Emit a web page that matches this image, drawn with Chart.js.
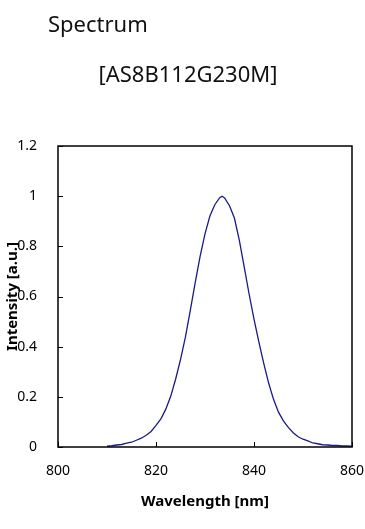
<!DOCTYPE html>
<html>
<head>
<meta charset="utf-8">
<script src="https://cdn.jsdelivr.net/npm/chart.js@4/dist/chart.umd.min.js"></script>
<style>
    html, body { margin: 0; padding: 0; background: #fff; }
    #wrap { position: relative; width: 365px; height: 529px; }
    #chart { position: absolute; left: 0; top: 0; }
    .head { position: absolute; font-family: "Noto Sans", sans-serif; font-size: 22px; color: #111; white-space: nowrap; }
    #t1 { left: 48px; top: 8px; }
    #t2 { left: 0; width: 376px; text-align: center; top: 58px; }
</style>
</head>
<body>
<div id="wrap">
    <canvas id="chart" width="365" height="529"></canvas>
    <div class="head" id="t1">Spectrum</div>
    <div class="head" id="t2">[AS8B112G230M]</div>
</div>
<script>
// 波长 (nm)
const wavelengths = [
    810, 811, 812, 813, 814, 815, 816, 817, 818, 819,
    820, 821, 822, 823, 824, 825, 826, 827, 828, 829,
    830, 831, 832, 833, 833.5, 834, 835, 836, 837, 838, 839,
    840, 841, 842, 843, 844, 845, 846, 847, 848, 849,
    850, 851, 852, 853, 854, 855, 856, 857, 858, 859, 860
];
// 相对强度
const intensity = [
    0.003, 0.005, 0.008, 0.010, 0.015, 0.019, 0.027, 0.035, 0.047, 0.062,
    0.086, 0.112, 0.151, 0.202, 0.270, 0.348, 0.438, 0.545, 0.655, 0.760,
    0.850, 0.921, 0.966, 0.994, 1.000, 0.993, 0.962, 0.913, 0.825, 0.718, 0.610,
    0.510, 0.418, 0.332, 0.254, 0.189, 0.139, 0.104, 0.078, 0.057, 0.041,
    0.031, 0.024, 0.016, 0.013, 0.009, 0.008, 0.006, 0.006, 0.004, 0.004, 0.003
];
const xTicks = [800, 820, 840, 860];
const yTicks = [0, 0.2, 0.4, 0.6, 0.8, 1, 1.2];

const FONT = '"Noto Sans", sans-serif';

// 画框和朝内的刻度线
const framePlugin = {
    id: 'frame',
    afterDraw(chart) {
        const { ctx, chartArea: a, scales } = chart;
        ctx.save();
        ctx.strokeStyle = '#000';
        ctx.lineWidth = 1.5;
        ctx.strokeRect(a.left, a.top, a.right - a.left, a.bottom - a.top);
        ctx.lineWidth = 1;
        ctx.beginPath();
        xTicks.forEach(v => {
            const px = Math.round(scales.x.getPixelForValue(v)) + 0.5;
            ctx.moveTo(px, a.bottom);
            ctx.lineTo(px, a.bottom - 5);
        });
        yTicks.forEach(v => {
            const py = Math.round(scales.y.getPixelForValue(v)) + 0.5;
            ctx.moveTo(a.left, py);
            ctx.lineTo(a.left + 5, py);
        });
        ctx.stroke();
        ctx.restore();
    }
};

new Chart(document.getElementById('chart'), {
    type: 'line',
    data: {
        datasets: [{
            data: wavelengths.map((w, i) => ({ x: w, y: intensity[i] })),
            borderColor: '#1a1a88',
            borderWidth: 1.3,
            pointRadius: 0,
            tension: 0,
            fill: false
        }]
    },
    options: {
        responsive: false,
        animation: false,
        layout: { padding: { top: 146, right: 13, left: 0, bottom: 14 } },
        plugins: { legend: { display: false }, tooltip: { enabled: false } },
        scales: {
            x: {
                type: 'linear',
                min: 800, max: 860,
                afterFit: s => { s.height = 68; s.paddingLeft = 0; s.paddingRight = 0; },
                afterBuildTicks: s => { s.ticks = xTicks.map(v => ({ value: v })); },
                grid: { display: false },
                border: { display: false },
                ticks: { color: '#000', padding: 8, font: { family: FONT, size: 14 } },
                title: {
                    display: true, text: 'Wavelength [nm]', color: '#000',
                    font: { family: FONT, size: 15, weight: 'bold' },
                    padding: { top: 10 }
                }
            },
            y: {
                min: 0, max: 1.2,
                afterFit: s => { s.width = 58; s.paddingTop = 0; s.paddingBottom = 0; },
                afterBuildTicks: s => { s.ticks = yTicks.map(v => ({ value: v })); },
                grid: { display: false },
                border: { display: false },
                ticks: {
                    color: '#000', padding: 13,
                    font: { family: FONT, size: 14 },
                    callback: v => String(Math.round(v * 10) / 10)
                },
                title: {
                    display: true, text: 'Intensity [a.u.]', color: '#000',
                    font: { family: FONT, size: 15, weight: 'bold' },
                    padding: { bottom: 0 }
                }
            }
        }
    },
    plugins: [framePlugin]
});
</script>
</body>
</html>
